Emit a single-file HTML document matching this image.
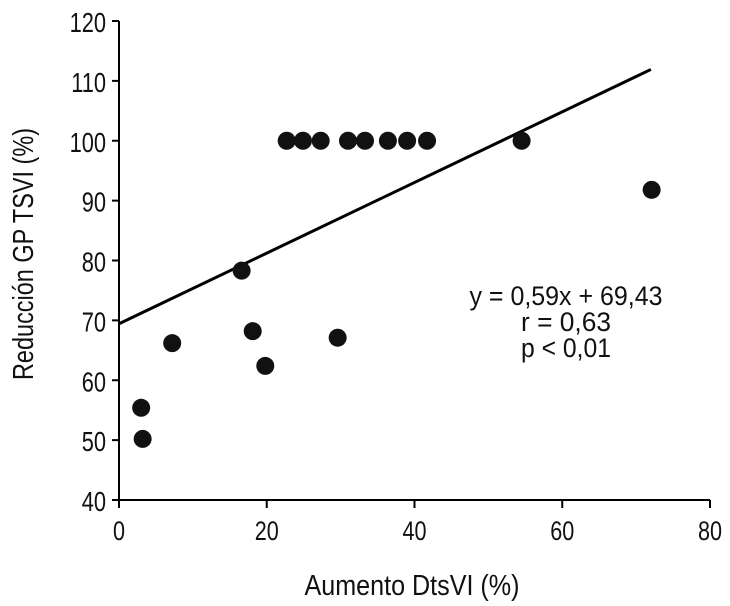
<!DOCTYPE html>
<html><head><meta charset="utf-8">
<style>
body{margin:0;background:#fff;}
svg{display:block;font-family:"Liberation Sans",sans-serif;}
</style></head>
<body>
<svg id="chart" width="730" height="606" viewBox="0 0 730 606"></svg>
<script>
const xTicks=[0,20,40,60,80];
const yTicks=[40,50,60,70,80,90,100,110,120];
const xVals=[3.0,3.2,7.2,16.6,18.1,19.8,22.7,24.9,27.3,31.0,33.3,36.4,39.0,41.7,29.6,54.5,72.1];
const yVals=[55.4,50.2,66.2,78.3,68.2,62.4,100,100,100,100,100,100,100,100,67.1,100,91.8];
const slope=0.59, intercept=69.43;
const lineX=[0,72];
const statsLines=["y = 0,59x + 69,43","r = 0,63","p < 0,01"];

const NS="http://www.w3.org/2000/svg";
const svg=document.getElementById('chart');
const X0=119,X1=710,Y0=500,Y1=21;
const sx=v=>X0+(v-0)/(80-0)*(X1-X0);
const sy=v=>Y0-(v-40)/(120-40)*(Y0-Y1);
function mk(tag,attrs,parent){const e=document.createElementNS(NS,tag);for(const k in attrs)e.setAttribute(k,attrs[k]);(parent||svg).appendChild(e);return e;}
function txt(x,y,anchor,size,str,parent,sc){
  const t=mk('text',{x:0,y:0,'text-anchor':anchor,'font-size':size,fill:'#111',transform:`translate(${x},${y}) scale(${sc},1)`},parent);
  t.textContent=str;return t;
}
function txtLen(x,y,size,len,str,rot){
  const t=mk('text',{x:-len/2,y:0,'font-size':size,fill:'#111',textLength:len,lengthAdjust:'spacingAndGlyphs',transform:rot?`translate(${x},${y}) rotate(-90)`:`translate(${x},${y})`});
  t.textContent=str;return t;
}

const ax=mk('g',{});


const yAxis=mk('line',{x1:X0,y1:Y1,x2:X0,y2:Y0,stroke:'#000','stroke-width':2},ax);


const xAxis=mk('line',{x1:X0,y1:Y0,x2:X1,y2:Y0,stroke:'#000','stroke-width':2},ax);



yTicks.forEach(t=>{
  const y=sy(t);
  const tk=mk('line',{x1:X0-7,y1:y,x2:X0,y2:y,stroke:'#000','stroke-width':2},ax);
  
  
  const tx=txt(X0-13,y+11,'end',28,String(t),ax,0.78);
  
  
});
xTicks.forEach(t=>{
  const x=sx(t);
  const tk=mk('line',{x1:x,y1:Y0,x2:x,y2:Y0+8,stroke:'#000','stroke-width':2},ax);
  
  
  const tx=txt(x,Y0+40,'middle',27,String(t),ax,0.8);
  
  
});

const xt=txtLen(412,595,29,215,'Aumento DtsVI (%)');


const yt=txtLen(33,254,29,252,'Reducción GP TSVI (%)',true);



const reg=mk('line',{x1:sx(lineX[0]),y1:sy(intercept+slope*lineX[0]),x2:sx(lineX[1]),y2:sy(intercept+slope*lineX[1]),stroke:'#000','stroke-width':3});



xVals.forEach((v,i)=>{
  const c=mk('circle',{cx:sx(v),cy:sy(yVals[i]),r:9,fill:'#111'});
  
  
});

const statLens=[193,90,90];
statsLines.forEach((s,i)=>{
  const t=txtLen(566,305+i*26,27,statLens[i],s);
  
  
});
</script>
</body></html>
